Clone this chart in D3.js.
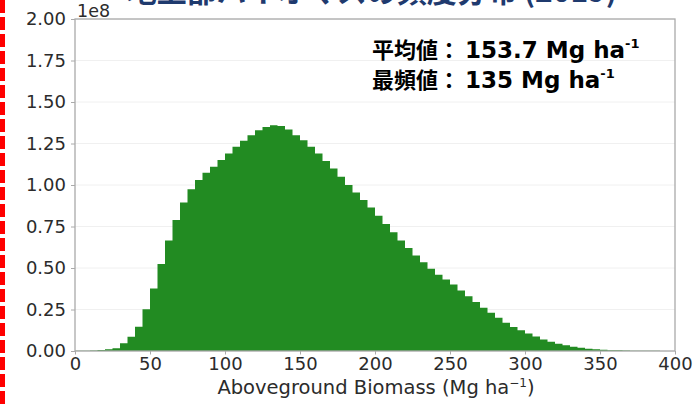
<!DOCTYPE html>
<html><head><meta charset="utf-8">
<script src="https://cdn.jsdelivr.net/npm/d3@7"></script>
<style>html,body{margin:0;padding:0;background:#fff;}svg{display:block;}</style>
</head><body>
<svg id="chart" width="695" height="404"></svg>
<script>
// Histogram bin edges (Mg ha-1), bin width 5
const binStarts = d3.range(0, 400, 5);
const binWidth = 5;
// Counts per bin (x 1e8)
const counts = [
 0.001,0.002,0.003,0.006,0.010,0.016,0.046,0.086,0.146,0.251,
 0.377,0.524,0.665,0.789,0.894,0.974,1.030,1.074,1.110,1.150,
 1.190,1.230,1.267,1.300,1.330,1.350,1.360,1.355,1.335,1.300,
 1.270,1.230,1.190,1.145,1.100,1.050,1.000,0.955,0.910,0.865,
 0.815,0.765,0.715,0.665,0.620,0.575,0.535,0.495,0.460,0.430,
 0.400,0.365,0.330,0.295,0.260,0.230,0.200,0.170,0.145,0.125,
 0.105,0.088,0.070,0.056,0.044,0.034,0.026,0.019,0.014,0.010,
 0.007,0.005,0.004,0.003,0.002,0.0015,0.001,0.001,0.0005,0.0005
];
const xTicks = [0,50,100,150,200,250,300,350,400];
const yTicks = [0,0.25,0.5,0.75,1.0,1.25,1.5,1.75,2.0];
const annotLines = [
  {label:"平均値：", value:"153.7 Mg ha", sup:"-1"},
  {label:"最頻値：", value:"135 Mg ha", sup:"-1"}
];
const titleText = "地上部バイオマスの頻度分布 (2019)";

const svg = d3.select("#chart");
const m = {left:75, right:675, top:19, bottom:351};
const x = d3.scaleLinear().domain([0,400]).range([m.left,m.right]);
const y = d3.scaleLinear().domain([0,2]).range([m.bottom,m.top]);

// red dashed frame edge
svg.append("line").attr("x1",2.5).attr("x2",2.5).attr("y1",0).attr("y2",404)
  .attr("stroke","#ff0000").attr("stroke-width",5).attr("stroke-dasharray","13,4");

// clipped title (mostly off the top edge, as in the reference)
svg.append("text").attr("x",372).attr("y",1.5).attr("text-anchor","middle")
  .attr("font-family","Noto Sans CJK JP").attr("font-weight","bold")
  .attr("font-size",30).attr("fill","#1f3a6e").text(titleText);

// grid
svg.append("g").selectAll("line").data(yTicks).join("line")
  .attr("x1",m.left).attr("x2",m.right).attr("y1",d=>y(d)).attr("y2",d=>y(d))
  .attr("stroke","#f0f0f0").attr("stroke-width",1);

// histogram as a continuous step area
const pts = binStarts.map((b,i)=>({x:b, v:counts[i]}));
pts.push({x:binStarts[binStarts.length-1]+binWidth, v:counts[counts.length-1]});
const area = d3.area().curve(d3.curveStepAfter)
  .x(d=>x(d.x)).y0(y(0)).y1(d=>y(d.v));
svg.append("path").datum(pts).attr("d",area).attr("fill","#228b22");

// axes
const fontAx = "DejaVu Sans";
const xAxis = svg.append("g").attr("transform",`translate(0,${m.bottom})`)
  .call(d3.axisBottom(x).tickValues(xTicks).tickSize(3.5).tickPadding(3).tickFormat(d3.format("d")));
const yAxis = svg.append("g").attr("transform",`translate(${m.left},0)`)
  .call(d3.axisLeft(y).tickValues(yTicks).tickSize(4).tickPadding(5).tickFormat(d3.format(".2f")));
[xAxis,yAxis].forEach(g=>{
  g.attr("font-family",fontAx).attr("font-size",18);
  g.select(".domain").remove();
  g.selectAll(".tick line").attr("stroke","#aaa");
  g.selectAll(".tick text").attr("font-family",fontAx).attr("font-size",18).attr("fill","#2b2b2b");
});

// spines
svg.append("rect").attr("x",m.left).attr("y",m.top).attr("width",m.right-m.left).attr("height",m.bottom-m.top)
  .attr("fill","none").attr("stroke","#aaa").attr("stroke-width",1.3);

// offset label
svg.append("text").attr("x",77).attr("y",16.5).attr("font-family",fontAx).attr("font-size",17.5)
  .attr("fill","#2b2b2b").text("1e8");

// x label
const xl = svg.append("text").attr("x",376).attr("y",394).attr("text-anchor","middle")
  .attr("font-family",fontAx).attr("font-size",19.5).attr("fill","#2b2b2b");
xl.append("tspan").text("Aboveground Biomass (Mg ha");
xl.append("tspan").attr("font-size",12).attr("dy",-7).text("−1");
xl.append("tspan").attr("dy",7).text(")");

// annotations
annotLines.forEach((a,i)=>{
  const t = svg.append("text").attr("x",372).attr("y",58+i*30).attr("font-weight","bold").attr("fill","#000");
  t.append("tspan").attr("font-family","Noto Sans CJK JP").attr("font-size",22).text(a.label);
  t.append("tspan").attr("font-family","DejaVu Sans").attr("font-size",23).attr("dx",5).text(a.value);
  t.append("tspan").attr("font-family","DejaVu Sans").attr("font-size",13).attr("dy",-10).text(a.sup);
});
</script>
</body></html>
